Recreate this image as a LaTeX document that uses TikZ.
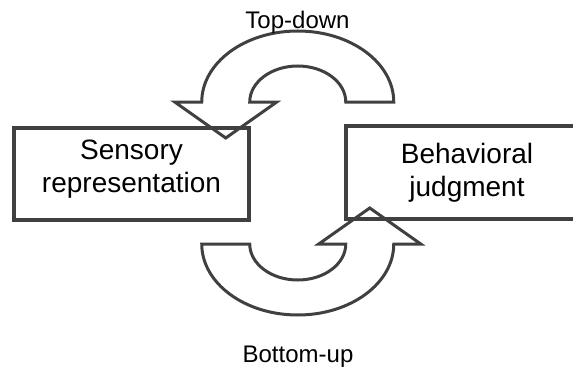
\documentclass[tikz,border=0pt]{standalone}
\usepackage{fontspec}
\setmainfont{Liberation Sans}
\definecolor{ink}{HTML}{404040}
\begin{document}
\begin{tikzpicture}[x=1pt,y=-1pt,
  boxnode/.style={draw=ink, line width=3.5pt, inner sep=0pt, align=center,
    font=\fontsize{28}{33}\selectfont, text=black},
  curvearrow/.style={draw=ink, line width=3pt, line join=miter, miter limit=10},
  lbl/.style={font=\fontsize{24}{28}\selectfont, anchor=base, inner sep=0pt, text=black}]
\useasboundingbox (0,0) rectangle (573,369);
\clip (0,0) rectangle (573,369);
% boxes
\node[boxnode, minimum width=235pt, minimum height=92pt] (sens) at (131.5,174)
  {Sensory\\representation\rule[-14.6pt]{0pt}{14.6pt}};
\node[boxnode, minimum width=242pt, minimum height=93pt] (beh) at (467,172.5)
  {Behavioral\\judgment};
% top-down arrow
\coordinate (tdstart) at (393.75,102);
\coordinate (tdtip) at (225.75,138);
\draw[curvearrow] (tdstart) arc[start angle=0, end angle=-180, x radius=96, y radius=71]
  -- (174.75,102) -- (tdtip) -- (276.75,102) -- (249.75,102)
  arc[start angle=180, end angle=360, x radius=48, y radius=36] -- cycle;
% bottom-up arrow
\coordinate (bustart) at (201.75,244);
\coordinate (butip) at (369.75,208);
\draw[curvearrow] (bustart) arc[start angle=180, end angle=0, x radius=96, y radius=71]
  -- (420.75,244) -- (butip) -- (318.75,244) -- (345.75,244)
  arc[start angle=0, end angle=180, x radius=48, y radius=36] -- cycle;
% labels
\node[lbl] (tdl) at (297.5,28.3) {Top-down};
\node[lbl] (bul) at (298,362.7) {Bottom-up};
\end{tikzpicture}
\end{document}
